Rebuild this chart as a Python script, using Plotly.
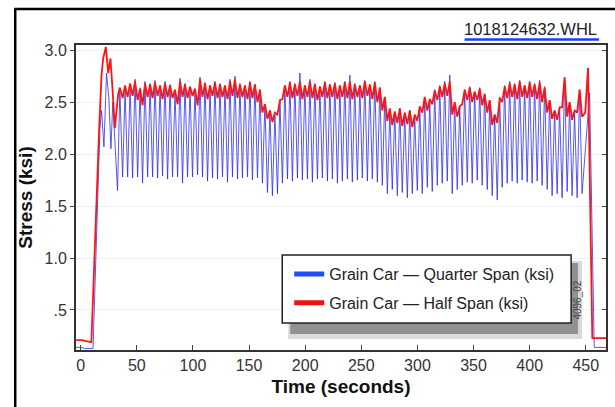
import plotly.graph_objects as go

# ---------------- data ----------------
# times (s) of the blue (quarter span) troughs and peaks in the cyclic part
trough_t = [37.3, 41.8, 46.2, 50.7, 55.1, 59.6, 64.0, 68.5, 72.9, 77.4,
            81.8, 86.3, 90.7, 95.2, 99.6, 104.1, 108.5, 113.0, 117.4, 121.9,
            126.3, 130.8, 135.2, 139.7, 144.1, 148.6, 153.0, 157.5, 161.9, 166.4,
            170.8, 175.3, 179.7, 184.2, 188.6, 193.1, 197.5, 202.0, 206.4, 210.9,
            215.3, 219.8, 224.2, 228.7, 233.1, 237.6, 242.0, 246.5, 250.9, 255.4,
            259.8, 264.3, 268.7, 273.2, 277.6, 282.1, 286.5, 291.0, 295.4, 299.9,
            304.3, 308.8, 313.2, 317.7, 322.1, 326.6, 331.0, 335.5, 339.9, 344.4,
            348.8, 353.3, 357.7, 362.2, 366.6, 371.1, 375.5, 380.0, 384.4, 388.9,
            393.3, 397.8, 402.2, 406.7, 411.1, 415.6, 420.0, 424.5, 428.9, 433.4,
            437.8, 442.3, 446.7]
peak_t = [39.5, 44.0, 48.4, 52.9, 57.3, 61.8, 66.2, 70.7, 75.1, 79.6,
          84.0, 88.5, 92.9, 97.4, 101.8, 106.3, 110.7, 115.2, 119.6, 124.1,
          128.5, 133.0, 137.4, 141.9, 146.3, 150.8, 155.2, 159.7, 164.1, 168.6,
          173.0, 177.5, 181.9, 186.4, 190.8, 195.3, 199.7, 204.2, 208.6, 213.1,
          217.5, 222.0, 226.4, 230.9, 235.3, 239.8, 244.2, 248.7, 253.1, 257.6,
          262.0, 266.5, 270.9, 275.4, 279.8, 284.3, 288.7, 293.2, 297.6, 302.1,
          306.5, 311.0, 315.4, 319.9, 324.3, 328.8, 333.2, 337.7, 342.1, 346.6,
          351.0, 355.5, 359.9, 364.4, 368.8, 373.3, 377.7, 382.2, 386.6, 391.1,
          395.5, 400.0, 404.4, 408.9, 413.3, 417.8, 422.2, 426.7, 431.1, 435.6,
          440.0, 444.5]

# Quarter span (blue) values at troughs / peaks (ksi)
quarter_trough = [1.78, 1.78, 1.77, 1.78, 1.72, 1.78, 1.78, 1.77, 1.79, 1.76,
                  1.78, 1.78, 1.72, 1.78, 1.78, 1.80, 1.78, 1.74, 1.77, 1.76,
                  1.78, 1.73, 1.78, 1.76, 1.77, 1.78, 1.75, 1.77, 1.72, 1.63,
                  1.60, 1.62, 1.72, 1.76, 1.74, 1.77, 1.75, 1.76, 1.73, 1.76,
                  1.77, 1.74, 1.76, 1.72, 1.74, 1.76, 1.73, 1.75, 1.77, 1.74,
                  1.76, 1.73, 1.70, 1.62, 1.66, 1.60, 1.63, 1.58, 1.62, 1.65,
                  1.62, 1.68, 1.64, 1.70, 1.72, 1.74, 1.62, 1.66, 1.70, 1.73,
                  1.72, 1.75, 1.70, 1.66, 1.60, 1.56, 1.68, 1.72, 1.74, 1.72,
                  1.75, 1.73, 1.72, 1.74, 1.70, 1.66, 1.60, 1.62, 1.58, 1.64,
                  1.60, 1.58, 1.62]
quarter_peak = [2.62, 2.66, 2.72, 2.64, 2.70, 2.68, 2.71, 2.66, 2.70, 2.67,
                2.60, 2.73, 2.68, 2.64, 2.62, 2.74, 2.69, 2.66, 2.70, 2.68,
                2.65, 2.72, 2.75, 2.68, 2.66, 2.70, 2.67, 2.62, 2.48, 2.42,
                2.38, 2.52, 2.66, 2.70, 2.68, 2.78, 2.66, 2.72, 2.68, 2.65,
                2.70, 2.67, 2.69, 2.66, 2.70, 2.76, 2.68, 2.66, 2.71, 2.67,
                2.70, 2.64, 2.55, 2.42, 2.40, 2.44, 2.38, 2.42, 2.36, 2.45,
                2.55, 2.52, 2.62, 2.66, 2.70, 2.76, 2.50, 2.45, 2.62, 2.65,
                2.60, 2.64, 2.58, 2.52, 2.38, 2.55, 2.66, 2.70, 2.68, 2.71,
                2.66, 2.70, 2.68, 2.71, 2.65, 2.52, 2.42, 2.45, 2.74, 2.48,
                2.40, 2.62]

# Half span (red) values at the same trough / peak times (ksi)
half_low = [2.54, 2.55, 2.56, 2.52, 2.47, 2.55, 2.54, 2.56, 2.53, 2.55,
            2.54, 2.48, 2.55, 2.54, 2.56, 2.47, 2.55, 2.53, 2.56, 2.54,
            2.55, 2.53, 2.56, 2.54, 2.55, 2.53, 2.54, 2.50,
            2.40, 2.34, 2.31, 2.38,
            2.53, 2.55, 2.54, 2.56, 2.53, 2.55, 2.54, 2.52, 2.55, 2.54,
            2.55, 2.53, 2.55, 2.54, 2.53, 2.55, 2.54, 2.56, 2.53, 2.50,
            2.42, 2.32, 2.28, 2.30, 2.27, 2.29, 2.26, 2.32,
            2.40, 2.42, 2.48, 2.52, 2.55, 2.56,
            2.38, 2.36,
            2.48, 2.52, 2.50, 2.52, 2.47, 2.40,
            2.28, 2.30,
            2.50, 2.54, 2.55, 2.53, 2.55, 2.54, 2.55, 2.53, 2.50,
            2.40, 2.34, 2.33, 2.45, 2.36, 2.33, 2.40, 2.36]
half_high = [2.66, 2.68, 2.70, 2.63, 2.68, 2.67, 2.69, 2.66, 2.68, 2.66,
             2.62, 2.70, 2.67, 2.65, 2.63, 2.72, 2.68, 2.66, 2.69, 2.67,
             2.66, 2.70, 2.72, 2.67, 2.66, 2.69, 2.67, 2.62,
             2.48, 2.42, 2.40, 2.52,
             2.66, 2.69, 2.67, 2.70, 2.66, 2.70, 2.67, 2.65, 2.69, 2.67,
             2.68, 2.66, 2.69, 2.70, 2.67, 2.66, 2.70, 2.67, 2.69, 2.64,
             2.55, 2.44, 2.41, 2.44, 2.40, 2.42, 2.38, 2.46,
             2.55, 2.53, 2.61, 2.65, 2.68, 2.70,
             2.50, 2.46,
             2.62, 2.64, 2.60, 2.63, 2.58, 2.52,
             2.38, 2.54,
             2.65, 2.68, 2.67, 2.70, 2.66, 2.69, 2.67, 2.69, 2.64,
             2.52, 2.42, 2.45, 2.74, 2.50, 2.42, 2.62]

# run-in / run-out portions
start_t_quarter = [-4, 0, 4, 8, 11, 17.1, 18.6, 20.7, 23.0, 25.0, 26.9, 28.6, 32.8, 34.9]
start_quarter = [0.14, 0.14, 0.13, 0.13, 0.13, 2.25, 2.42, 2.07, 2.78, 2.55, 2.05, 2.50, 1.65, 2.62]
end_t_quarter = [453.4, 457.5, 468]
end_quarter = [2.59, 0.14, 0.14]

start_t_half = [-4, 1, 5, 9.5, 16.5, 18.5, 20.0, 22.4, 24.5, 26.5, 28.5, 30.4, 33.4, 34.9]
start_half = [0.21, 0.21, 0.20, 0.19, 2.26, 2.75, 2.92, 3.03, 2.78, 2.92, 2.60, 2.25, 2.58, 2.64]
end_t_half = [449.5, 452.0, 455.8, 468]
end_half = [2.40, 2.83, 0.23, 0.23]

x_ticks = [0, 50, 100, 150, 200, 250, 300, 350, 400, 450]
y_ticks = [0.5, 1.0, 1.5, 2.0, 2.5, 3.0]
y_tick_text = [".5", "1.0", "1.5", "2.0", "2.5", "3.0"]

name_quarter = "Grain Car \u2014 Quarter Span (ksi)"
name_half = "Grain Car \u2014 Half Span (ksi)"


def interleave(tt, tv, pt, pv):
    xs, ys = [], []
    for k in range(len(tt)):
        xs.append(tt[k]); ys.append(tv[k])
        if k < len(pt):
            xs.append(pt[k]); ys.append(pv[k])
    return xs, ys


qx, qy = interleave(trough_t, quarter_trough, peak_t, quarter_peak)
qx = start_t_quarter + qx + end_t_quarter
qy = start_quarter + qy + end_quarter
hx, hy = interleave(trough_t, half_low, peak_t, half_high)
hx = start_t_half + hx + end_t_half
hy = start_half + hy + end_half

# ---------------- figure ----------------
W, H = 615, 407
L, R, T, B = 76, 608, 45, 350
PW, PH = R - L, B - T


def px(x):
    return (x - L) / PW


def py(y):
    return (B - y) / PH


FONT = "Liberation Sans, Arial, Helvetica, sans-serif"

fig = go.Figure()
fig.add_trace(go.Scatter(x=qx, y=qy, mode="lines",
                         line=dict(color="rgba(45,45,235,0.8)", width=1),
                         showlegend=False, hoverinfo="skip"))
fig.add_trace(go.Scatter(x=hx, y=hy, mode="lines", line=dict(color="#ff1414", width=1.8),
                         showlegend=False, hoverinfo="skip"))
fig.add_trace(go.Scatter(x=[None], y=[None], mode="lines", legendgroup="q",
                         line=dict(color="#1f4cff", width=5), name=name_quarter))
fig.add_trace(go.Scatter(x=[None], y=[None], mode="lines", legendgroup="h",
                         line=dict(color="#ee1111", width=5), name=name_half,
                         yaxis="y2"))

shapes = [
    # legend drop shadow
    dict(type="rect", xref="paper", yref="paper", layer="above",
         x0=px(289), x1=px(584), y0=py(339), y1=py(261),
         fillcolor="rgba(150,150,150,0.35)", line=dict(width=0)),
    dict(type="rect", xref="paper", yref="paper", layer="above",
         x0=px(291), x1=px(580), y0=py(334), y1=py(263),
         fillcolor="rgba(85,85,85,0.55)", line=dict(width=0)),
    # legend box
    dict(type="rect", xref="paper", yref="paper", layer="above",
         x0=px(283), x1=px(573), y0=py(323), y1=py(255),
         fillcolor="white", line=dict(color="#222", width=1.5)),
    # outer frame (left and top)
    dict(type="line", xref="paper", yref="paper", x0=px(15), x1=px(15),
         y0=py(9), y1=py(410), line=dict(color="black", width=2.5)),
    dict(type="line", xref="paper", yref="paper", x0=px(14), x1=px(620),
         y0=py(9), y1=py(9), line=dict(color="black", width=2.5)),
    # underline of file name
    dict(type="line", xref="paper", yref="paper", x0=px(466), x1=px(601),
         y0=py(39.5), y1=py(39.5), line=dict(color="#1a3cff", width=2.5)),
]

annotations = [
    dict(text="1018124632.WHL", xref="paper", yref="paper", x=px(601), y=py(29),
         xanchor="right", yanchor="middle", showarrow=False,
         font=dict(family=FONT, size=16.5, color="#222")),
    dict(text="4096_02", xref="paper", yref="paper", x=px(578.5), y=py(300),
         xanchor="center", yanchor="middle", showarrow=False, textangle=-90,
         font=dict(family=FONT, size=10, color="#444")),
]

fig.update_layout(
    width=W, height=H,
    margin=dict(l=L, r=W - R, t=T, b=H - B),
    paper_bgcolor="white", plot_bgcolor="white",
    font=dict(family=FONT, color="#333"),
    shapes=shapes, annotations=annotations,
    legend=dict(x=px(290), y=py(257), xanchor="left", yanchor="top",
                bgcolor="rgba(0,0,0,0)", borderwidth=0,
                font=dict(family=FONT, size=16, color="#222"),
                tracegroupgap=5),
    xaxis=dict(range=[-4.2, 468], tickvals=x_ticks, ticks="inside", ticklen=5,
               tickcolor="#444", showline=True, linecolor="#333", linewidth=2,
               mirror=True, showgrid=False, zeroline=False,
               tickfont=dict(family=FONT, size=16, color="#333"),
               title=dict(text="<b>Time (seconds)</b>", standoff=6,
                          font=dict(family=FONT, size=19, color="#111"))),
    yaxis=dict(range=[0.115, 3.05], tickvals=y_ticks, ticktext=y_tick_text,
               ticks="outside", ticklen=4, tickcolor="#444",
               showline=True, linecolor="#333", linewidth=2, mirror=True,
               showgrid=True, gridcolor="#f0f0f0", gridwidth=1, zeroline=False,
               tickfont=dict(family=FONT, size=16, color="#333"),
               title=dict(text="<b>Stress (ksi)</b>", standoff=7,
                          font=dict(family=FONT, size=19, color="#111"))),
    yaxis2=dict(range=[0.115, 3.05], tickvals=y_ticks, overlaying="y", side="right",
                ticks="inside", ticklen=4, tickcolor="#444", showticklabels=False,
                showgrid=False, zeroline=False, showline=False),
)

fig.write_html("out.html")
